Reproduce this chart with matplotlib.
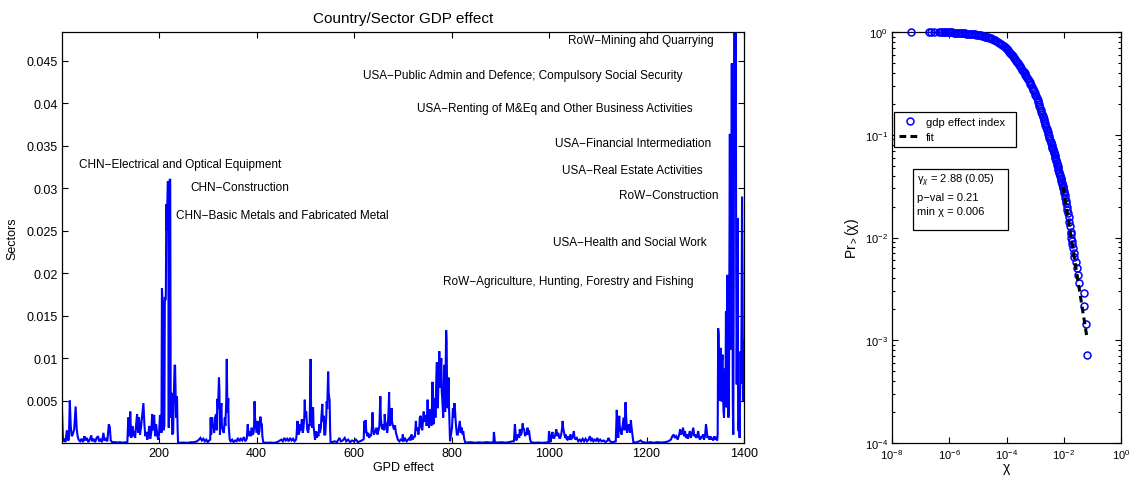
import numpy as np
import matplotlib
matplotlib.use("Agg")
import matplotlib.pyplot as plt
from matplotlib.patches import Rectangle
from matplotlib.ticker import FixedLocator, FuncFormatter, LogLocator, NullFormatter

plt.rcParams['font.family'] = ['Liberation Sans', 'DejaVu Sans']
plt.rcParams['mathtext.fontset'] = 'custom'
plt.rcParams['mathtext.rm'] = 'Liberation Sans'
plt.rcParams['mathtext.it'] = 'Liberation Sans:italic'

# ---------------- data: left panel (sector index, GDP effect) ----------------
sector_idx = [
    1, 3, 6, 8, 11, 13, 15, 17, 19, 21,
    23, 26, 29, 31, 33, 35, 38, 41, 44, 47,
    49, 52, 55, 58, 61, 63, 66, 69, 72, 75,
    77, 80, 83, 86, 88, 91, 94, 97, 99, 101,
    104, 110, 115, 120, 125, 130, 135, 137, 139, 141,
    143, 145, 146, 148, 149, 151, 153, 155, 157, 159,
    161, 163, 165, 168, 170, 172, 174, 176, 178, 180,
    182, 184, 186, 188, 190, 192, 194, 196, 198, 200,
    202, 204, 205, 206, 207, 208, 209, 211, 212, 213,
    214, 215, 216, 217, 218, 219, 220, 221, 222, 223,
    224, 225, 226, 227, 229, 230, 232, 233, 234, 235,
    236, 237, 238, 239, 242, 250, 258, 265, 272, 278,
    282, 285, 288, 291, 294, 297, 300, 303, 305, 306,
    307, 309, 310, 312, 313, 315, 317, 318, 320, 321,
    323, 324, 325, 326, 328, 329, 331, 333, 335, 336,
    338, 339, 340, 341, 342, 343, 345, 347, 350, 353,
    356, 359, 362, 365, 368, 371, 374, 377, 380, 382,
    384, 386, 387, 389, 390, 392, 394, 395, 396, 397,
    399, 400, 402, 404, 406, 408, 409, 411, 412, 414,
    420, 428, 436, 442, 448, 451, 454, 457, 460, 463,
    466, 469, 472, 475, 478, 481, 482, 484, 486, 488,
    490, 491, 493, 495, 496, 498, 499, 500, 502, 504,
    506, 508, 509, 511, 512, 514, 516, 517, 519, 520,
    522, 524, 525, 527, 529, 530, 532, 533, 535, 536,
    538, 539, 541, 543, 544, 545, 547, 548, 549, 550,
    551, 552, 555, 560, 565, 570, 573, 577, 581, 584,
    588, 592, 596, 600, 604, 608, 612, 616, 619, 620,
    621, 622, 624, 625, 627, 629, 631, 633, 635, 637,
    638, 639, 641, 643, 645, 646, 648, 650, 652, 654,
    655, 657, 659, 660, 662, 663, 664, 666, 668, 669,
    671, 672, 673, 674, 676, 677, 678, 680, 682, 684,
    686, 688, 690, 693, 696, 699, 700, 702, 705, 708,
    711, 714, 716, 718, 720, 722, 724, 725, 727, 728,
    730, 732, 734, 735, 737, 738, 740, 741, 743, 744,
    746, 748, 749, 751, 752, 754, 755, 757, 759, 761,
    762, 763, 765, 766, 767, 769, 770, 771, 772, 774,
    775, 776, 777, 779, 780, 781, 783, 785, 786, 787,
    789, 790, 791, 792, 794, 795, 797, 799, 801, 803,
    804, 806, 807, 809, 811, 813, 815, 817, 819, 821,
    823, 824, 826, 828, 832, 840, 848, 856, 864, 872,
    880, 886, 887, 889, 895, 902, 910, 918, 925, 928,
    930, 931, 933, 935, 937, 939, 940, 942, 944, 946,
    947, 949, 951, 952, 954, 956, 957, 959, 961, 963,
    970, 978, 986, 994, 999, 1000, 1001, 1003, 1005, 1007,
    1009, 1011, 1013, 1015, 1017, 1019, 1021, 1023, 1025, 1027,
    1028, 1029, 1031, 1033, 1034, 1036, 1038, 1040, 1042, 1044,
    1046, 1048, 1051, 1052, 1054, 1057, 1060, 1063, 1066, 1069,
    1072, 1075, 1078, 1081, 1084, 1086, 1088, 1091, 1094, 1097,
    1099, 1102, 1105, 1108, 1112, 1116, 1120, 1122, 1125, 1129,
    1133, 1136, 1137, 1139, 1140, 1142, 1144, 1145, 1147, 1149,
    1151, 1153, 1155, 1157, 1158, 1160, 1162, 1164, 1166, 1168,
    1169, 1171, 1173, 1178, 1185, 1188, 1192, 1200, 1208, 1215,
    1222, 1230, 1238, 1245, 1250, 1253, 1256, 1258, 1261, 1264,
    1267, 1269, 1271, 1273, 1275, 1277, 1279, 1281, 1283, 1285,
    1287, 1289, 1291, 1293, 1296, 1298, 1300, 1302, 1304, 1306,
    1308, 1310, 1312, 1314, 1316, 1318, 1320, 1322, 1323, 1325,
    1327, 1329, 1331, 1333, 1335, 1337, 1339, 1341, 1343, 1345,
    1346, 1347, 1348, 1349, 1350, 1351, 1352, 1353, 1354, 1355,
    1356, 1357, 1358, 1359, 1360, 1361, 1362, 1363, 1364, 1365,
    1366, 1367, 1368, 1369, 1370, 1371, 1372, 1373, 1374, 1375,
    1376, 1377, 1378, 1379, 1380, 1381, 1382, 1383, 1384, 1385,
    1386, 1387, 1388, 1389, 1390, 1391, 1392, 1393, 1394, 1395,
    1396, 1397, 1398, 1399, 1400,
]
gdp_effect = [
    0.0039, 0.0002, 0.0005, 0.0001, 0.0015, 0.0003, 0.0004, 0.0050, 0.0019, 0.0008,
    0.0010, 0.0016, 0.0043, 0.0018, 0.0008, 0.0004, 0.0002, 0.0005, 0.0001, 0.0008,
    0.0003, 0.0006, 0.0001, 0.0004, 0.0009, 0.0002, 0.0005, 0.0001, 0.0006, 0.0008,
    0.0002, 0.0004, 0.0001, 0.0012, 0.0003, 0.0005, 0.0002, 0.0022, 0.0019, 0.0003,
    0.0001, 0.0001, 0.00005, 0.0001, 0.00003, 0.00008, 0.00005, 0.0030, 0.0008, 0.0037,
    0.0006, 0.0015, 0.0020, 0.0008, 0.0014, 0.0006, 0.0021, 0.0034, 0.0012, 0.0030,
    0.0010, 0.0018, 0.0030, 0.0047, 0.0022, 0.0008, 0.0013, 0.0004, 0.0010, 0.0020,
    0.0005, 0.0012, 0.0034, 0.0015, 0.0033, 0.0008, 0.0022, 0.0012, 0.0004, 0.0010,
    0.0033, 0.0030, 0.0012, 0.0182, 0.0170, 0.0165, 0.0015, 0.0020, 0.0172, 0.0168,
    0.0173, 0.0281, 0.0250, 0.0281, 0.0308, 0.0305, 0.0018, 0.0300, 0.0310, 0.0310,
    0.0041, 0.0030, 0.0059, 0.0010, 0.0012, 0.0048, 0.0092, 0.0091, 0.0057, 0.0030,
    0.0055, 0.0053, 0.0020, 0.0001, 0.00003, 0.00005, 0.00002, 0.00008, 0.0001, 0.0002,
    0.0004, 0.0006, 0.0003, 0.0005, 0.0002, 0.0004, 0.0001, 0.0003, 0.0004, 0.0030,
    0.0010, 0.0030, 0.0018, 0.0022, 0.0012, 0.0030, 0.0034, 0.0015, 0.0052, 0.0040,
    0.0077, 0.0060, 0.0010, 0.0035, 0.0047, 0.0020, 0.0014, 0.0012, 0.0030, 0.0020,
    0.0050, 0.0099, 0.0050, 0.0036, 0.0053, 0.0020, 0.0004, 0.0002, 0.0004, 0.0001,
    0.0003, 0.0002, 0.0006, 0.0002, 0.0005, 0.0003, 0.0007, 0.0002, 0.0005, 0.0022,
    0.0008, 0.0012, 0.0014, 0.0008, 0.0018, 0.0010, 0.0012, 0.0020, 0.0049, 0.0030,
    0.0018, 0.0012, 0.0026, 0.0010, 0.0014, 0.0031, 0.0024, 0.0022, 0.0008, 0.00005,
    0.00003, 0.00005, 0.00002, 0.00008, 0.0003, 0.0004, 0.0002, 0.0006, 0.0003, 0.0005,
    0.0002, 0.0006, 0.0003, 0.0005, 0.0002, 0.0004, 0.0008, 0.0026, 0.0010, 0.0013,
    0.0022, 0.0015, 0.0028, 0.0012, 0.0016, 0.0030, 0.0051, 0.0030, 0.0037, 0.0016,
    0.0012, 0.0022, 0.0020, 0.0099, 0.0040, 0.0018, 0.0042, 0.0020, 0.0010, 0.0004,
    0.0014, 0.0006, 0.0013, 0.0008, 0.0022, 0.0012, 0.0018, 0.0030, 0.0046, 0.0025,
    0.0032, 0.0010, 0.0010, 0.0030, 0.0049, 0.0040, 0.0084, 0.0060, 0.0054, 0.0050,
    0.0015, 0.0001, 0.0001, 0.0002, 0.0001, 0.0006, 0.0002, 0.0003, 0.0006, 0.0002,
    0.0004, 0.0001, 0.0003, 0.0002, 0.0004, 0.0001, 0.0002, 0.0003, 0.0004, 0.0005,
    0.0026, 0.0012, 0.0027, 0.0015, 0.0008, 0.0012, 0.0006, 0.0010, 0.0008, 0.0020,
    0.0036, 0.0020, 0.0010, 0.0015, 0.0012, 0.0018, 0.0010, 0.0014, 0.0020, 0.0055,
    0.0030, 0.0018, 0.0016, 0.0022, 0.0015, 0.0034, 0.0025, 0.0022, 0.0012, 0.0016,
    0.0040, 0.0060, 0.0030, 0.0020, 0.0030, 0.0041, 0.0025, 0.0020, 0.0016, 0.0021,
    0.0012, 0.0008, 0.0004, 0.0002, 0.0004, 0.0003, 0.0010, 0.0002, 0.0005, 0.0002,
    0.0004, 0.0006, 0.0003, 0.0010, 0.0004, 0.0006, 0.0008, 0.0008, 0.0026, 0.0015,
    0.0018, 0.0010, 0.0018, 0.0030, 0.0032, 0.0020, 0.0015, 0.0022, 0.0037, 0.0028,
    0.0025, 0.0033, 0.0020, 0.0051, 0.0035, 0.0018, 0.0040, 0.0030, 0.0020, 0.0072,
    0.0040, 0.0022, 0.0045, 0.0053, 0.0030, 0.0080, 0.0095, 0.0060, 0.0041, 0.0090,
    0.0108, 0.0070, 0.0065, 0.0100, 0.0060, 0.0053, 0.0030, 0.0092, 0.0050, 0.0037,
    0.0133, 0.0120, 0.0060, 0.0041, 0.0077, 0.0040, 0.0002, 0.0010, 0.0018, 0.0041,
    0.0030, 0.0047, 0.0040, 0.0022, 0.0010, 0.0010, 0.0018, 0.0026, 0.0012, 0.0018,
    0.0010, 0.0014, 0.0005, 0.0001, 0.00005, 0.0001, 0.00003, 0.00008, 0.00004, 0.0001,
    0.00005, 0.0001, 0.0013, 0.0001, 0.00005, 0.0001, 0.00004, 0.0001, 0.0002, 0.0002,
    0.0022, 0.0015, 0.0003, 0.0008, 0.0010, 0.0006, 0.0016, 0.0009, 0.0012, 0.0023,
    0.0018, 0.0016, 0.0008, 0.0012, 0.0010, 0.0018, 0.0010, 0.0015, 0.0005, 0.0001,
    0.00003, 0.00005, 0.00002, 0.00006, 0.0001, 0.0014, 0.0010, 0.0001, 0.0008, 0.0013,
    0.0006, 0.0006, 0.0010, 0.0016, 0.0008, 0.0012, 0.0006, 0.0006, 0.0010, 0.0018,
    0.0026, 0.0018, 0.0012, 0.0006, 0.0010, 0.0005, 0.0004, 0.0008, 0.0004, 0.0010,
    0.0005, 0.0006, 0.0014, 0.0008, 0.0004, 0.0006, 0.0002, 0.0004, 0.0002, 0.0005,
    0.0002, 0.0005, 0.0002, 0.0004, 0.0008, 0.0002, 0.0006, 0.0002, 0.0004, 0.0002,
    0.0006, 0.0002, 0.0004, 0.0002, 0.0003, 0.0001, 0.0003, 0.0006, 0.0002, 0.0001,
    0.0001, 0.0002, 0.0002, 0.0039, 0.0025, 0.0006, 0.0032, 0.0020, 0.0014, 0.0010,
    0.0020, 0.0030, 0.0015, 0.0048, 0.0035, 0.0012, 0.0018, 0.0022, 0.0012, 0.0027,
    0.0020, 0.0010, 0.0001, 0.00005, 0.0002, 0.0003, 0.0001, 0.00004, 0.0001, 0.00003,
    0.0001, 0.00005, 0.0001, 0.0002, 0.0004, 0.0008, 0.0010, 0.0006, 0.0008, 0.0004,
    0.0010, 0.0016, 0.0010, 0.0012, 0.0018, 0.0008, 0.0014, 0.0006, 0.0010, 0.0005,
    0.0010, 0.0014, 0.0006, 0.0010, 0.0018, 0.0008, 0.0010, 0.0006, 0.0008, 0.0014,
    0.0006, 0.0004, 0.0008, 0.0006, 0.0010, 0.0004, 0.0008, 0.0022, 0.0018, 0.0006,
    0.0008, 0.0004, 0.0008, 0.0004, 0.0006, 0.0003, 0.0008, 0.0004, 0.0007, 0.0003,
    0.0010, 0.0135, 0.0128, 0.0060, 0.0050, 0.0100, 0.0112, 0.0060, 0.0049, 0.0095,
    0.0104, 0.0060, 0.0037, 0.0030, 0.0070, 0.0088, 0.0060, 0.0155, 0.0042, 0.0080,
    0.0198, 0.0120, 0.0030, 0.0050, 0.0200, 0.0364, 0.0110, 0.0150, 0.0300, 0.0447,
    0.0225, 0.0049, 0.0010, 0.0200, 0.0570, 0.0650, 0.0400, 0.0520, 0.0200, 0.0069,
    0.0150, 0.0265, 0.0022, 0.0014, 0.0030, 0.0006, 0.0060, 0.0108, 0.0070, 0.0150,
    0.0290, 0.0200, 0.0050, 0.0080, 0.0120,
]

sector_labels = [
    "CHN\u2212Electrical and Optical Equipment",
    "CHN\u2212Construction",
    "CHN\u2212Basic Metals and Fabricated Metal",
    "RoW\u2212Mining and Quarrying",
    "USA\u2212Public Admin and Defence; Compulsory Social Security",
    "USA\u2212Renting of M&Eq and Other Business Activities",
    "USA\u2212Financial Intermediation",
    "USA\u2212Real Estate Activities",
    "RoW\u2212Construction",
    "USA\u2212Health and Social Work",
    "RoW\u2212Agriculture, Hunting, Forestry and Fishing",
]

# ---------------- data: right panel (CCDF points, read on log10 scale) ----------------
log10_chi = [
    -7.35, -6.70, -6.64, -6.52,
    -6.35, -6.30, -6.25, -6.20, -6.15, -6.10, -6.05, -6.00, -5.95, -5.90,
    -5.85, -5.80, -5.75, -5.70, -5.65, -5.60, -5.55, -5.50, -5.45, -5.40,
    -5.35, -5.30, -5.25, -5.20, -5.15, -5.10, -5.05, -5.00, -4.95, -4.90,
    -4.85, -4.80, -4.75, -4.70, -4.65, -4.60, -4.55, -4.50, -4.45, -4.40,
    -4.35, -4.30, -4.25, -4.20, -4.15, -4.10, -4.05, -4.01, -3.97, -3.935,
    -3.90, -3.865, -3.83, -3.795, -3.76, -3.725, -3.69, -3.655, -3.62, -3.585,
    -3.55, -3.52, -3.49, -3.46, -3.43, -3.40, -3.37, -3.34, -3.31, -3.28,
    -3.25, -3.22, -3.19, -3.165, -3.14, -3.115, -3.09, -3.065, -3.04, -3.015,
    -2.99, -2.965, -2.94, -2.915, -2.89, -2.87, -2.85, -2.825, -2.80, -2.78,
    -2.76, -2.74, -2.72, -2.70, -2.68, -2.66, -2.64, -2.62, -2.60, -2.58,
    -2.56, -2.54, -2.52, -2.50, -2.48, -2.46, -2.44, -2.425, -2.41, -2.395,
    -2.38, -2.365, -2.35, -2.335, -2.32, -2.305, -2.29, -2.275, -2.26, -2.245,
    -2.23, -2.215, -2.20, -2.185, -2.17, -2.155, -2.14, -2.125, -2.11, -2.095,
    -2.08, -2.065, -2.05, -2.035, -2.02,
    -2.01, -1.995, -1.98, -1.965, -1.95, -1.935, -1.915, -1.895, -1.875, -1.85,
    -1.83, -1.805, -1.78, -1.76, -1.745, -1.73, -1.715, -1.70, -1.685, -1.65,
    -1.63, -1.57, -1.53, -1.49, -1.45, -1.31, -1.30, -1.23, -1.18,
]
log10_pr = [
    0.0, 0.0, 0.0, 0.0,
    0.0, 0.0, -0.001, -0.001, -0.002, -0.002, -0.003, -0.003, -0.004, -0.004,
    -0.005, -0.006, -0.007, -0.008, -0.009, -0.010, -0.011, -0.012, -0.013, -0.015,
    -0.016, -0.017, -0.019, -0.020, -0.022, -0.024, -0.026, -0.028, -0.030, -0.033,
    -0.036, -0.040, -0.044, -0.048, -0.052, -0.057, -0.062, -0.068, -0.074, -0.080,
    -0.087, -0.095, -0.103, -0.112, -0.122, -0.133, -0.145, -0.155, -0.165, -0.177,
    -0.190, -0.202, -0.215, -0.226, -0.238, -0.251, -0.265, -0.278, -0.292, -0.306,
    -0.320, -0.335, -0.350, -0.365, -0.380, -0.390, -0.400, -0.415, -0.430, -0.445,
    -0.460, -0.475, -0.490, -0.505, -0.520, -0.535, -0.550, -0.562, -0.575, -0.592,
    -0.610, -0.627, -0.645, -0.662, -0.680, -0.700, -0.720, -0.740, -0.760, -0.780,
    -0.800, -0.815, -0.830, -0.850, -0.870, -0.887, -0.905, -0.922, -0.940, -0.957,
    -0.975, -0.992, -1.010, -1.030, -1.050, -1.067, -1.085, -1.100, -1.115, -1.127,
    -1.140, -1.152, -1.165, -1.180, -1.195, -1.212, -1.230, -1.245, -1.260, -1.275,
    -1.290, -1.307, -1.325, -1.342, -1.360, -1.375, -1.390, -1.405, -1.420, -1.435,
    -1.450, -1.465, -1.480, -1.495, -1.510,
    -1.523, -1.544, -1.567, -1.590, -1.615, -1.641, -1.669, -1.699, -1.731, -1.766,
    -1.804, -1.845, -1.891, -1.942, -1.970, -2.000, -2.032, -2.067, -2.105, -2.146,
    -2.192, -2.243, -2.301, -2.368, -2.447, -2.544, -2.669, -2.845, -3.146,
]
fit_log10_chi = [-2.02, -1.18]
fit_log10_pr = [-1.51, -2.99]

stats_lines = [r"$\mathrm{\gamma}_{\chi}$ = 2.88 (0.05)", "p\u2212val = 0.21", "min \u03c7 = 0.006"]

# ---------------- layout ----------------
W, H = 1134, 481
fig = plt.figure(figsize=(W / 100, H / 100), dpi=100)
ax1 = fig.add_axes([62 / W, 37 / H, 682 / W, 411 / H])
ax2 = fig.add_axes([892 / W, 37 / H, 229 / W, 411 / H])

blue = (0, 0, 1)

# left panel
ax1.plot(sector_idx, gdp_effect, color=blue, lw=1.5, solid_joinstyle='miter')
ax1.set_xlim(1, 1400)
ax1.set_ylim(0, 0.0484)
ax1.xaxis.set_major_locator(FixedLocator([200, 400, 600, 800, 1000, 1200, 1400]))
ax1.yaxis.set_major_locator(FixedLocator([0.005, 0.01, 0.015, 0.02, 0.025, 0.03, 0.035, 0.04, 0.045]))
ax1.yaxis.set_major_formatter(FuncFormatter(lambda v, p: "%g" % v))
ax1.tick_params(direction='in', top=True, right=True, length=4, width=0.8, labelsize=9, pad=3)
for s in ax1.spines.values():
    s.set_linewidth(0.9)
ax1.set_title('Country/Sector GDP effect', fontsize=11, pad=7)
ax1.set_xlabel('GPD effect', fontsize=9, labelpad=1)
ax1.set_ylabel('Sectors', fontsize=9, labelpad=6)

label_pos = [(36, 0.0328), (263.6, 0.0302), (234.3, 0.0268), (1039.6, 0.0474),
             (618.5, 0.0433), (728.6, 0.0395), (1012.3, 0.0353), (1026.7, 0.0321),
             (1143.6, 0.0292), (1007.6, 0.0237), (782, 0.0191)]
for txt, (lx, ly) in zip(sector_labels, label_pos):
    ax1.text(lx, ly, txt, fontsize=8.5, ha='left', va='center', color='black')

# right panel
chi = np.power(10.0, log10_chi)
pr = np.power(10.0, log10_pr)
fit_chi = np.power(10.0, fit_log10_chi)
fit_pr = np.power(10.0, fit_log10_pr)
ax2.set_xscale('log')
ax2.set_yscale('log')
ax2.plot(chi, pr, linestyle='none', marker='o', markersize=5.0, markerfacecolor='none',
         markeredgecolor=blue, markeredgewidth=1.1, label='gdp effect index  ',
         clip_on=False, zorder=3)
ax2.plot(fit_chi, fit_pr, color='black', lw=2.2, linestyle=(0, (2.2, 1.4)), label='fit',
         zorder=4)
ax2.set_xlim(1e-8, 1)
ax2.set_ylim(1e-4, 1)
ax2.xaxis.set_major_locator(FixedLocator([1e-8, 1e-6, 1e-4, 1e-2, 1]))
ax2.xaxis.set_minor_locator(FixedLocator([]))
ax2.yaxis.set_major_locator(LogLocator(base=10, numticks=10))
ax2.yaxis.set_minor_locator(LogLocator(base=10, subs=np.arange(2, 10), numticks=10))
ax2.yaxis.set_minor_formatter(NullFormatter())
ax2.tick_params(which='both', direction='in', top=True, right=True, width=0.8, labelsize=8, pad=3)
ax2.tick_params(which='major', length=4)
ax2.tick_params(which='minor', length=2)
for s in ax2.spines.values():
    s.set_linewidth(0.9)
ax2.set_xlabel('\u03c7', fontsize=10, labelpad=-1)
ax2.set_ylabel('Pr$_{>}$(\u03c7)', fontsize=10, labelpad=3)

leg = ax2.legend(loc='upper left', bbox_to_anchor=(0.009, 0.805), borderaxespad=0,
                 fontsize=8, frameon=True, fancybox=False, framealpha=1,
                 edgecolor='black', handlelength=2.0, handletextpad=0.5,
                 borderpad=0.4, labelspacing=0.5)
leg.get_frame().set_linewidth(0.9)

ax2.add_patch(Rectangle((0.092, 0.518), 0.415, 0.149, transform=ax2.transAxes,
                        fill=True, facecolor='white', edgecolor='black', lw=0.9, zorder=5))
for txt, yy in zip(stats_lines, [0.640, 0.599, 0.564]):
    ax2.text(0.109, yy, txt, transform=ax2.transAxes, fontsize=8, ha='left',
             va='center', zorder=6)

fig.savefig('out.png', dpi=100)
